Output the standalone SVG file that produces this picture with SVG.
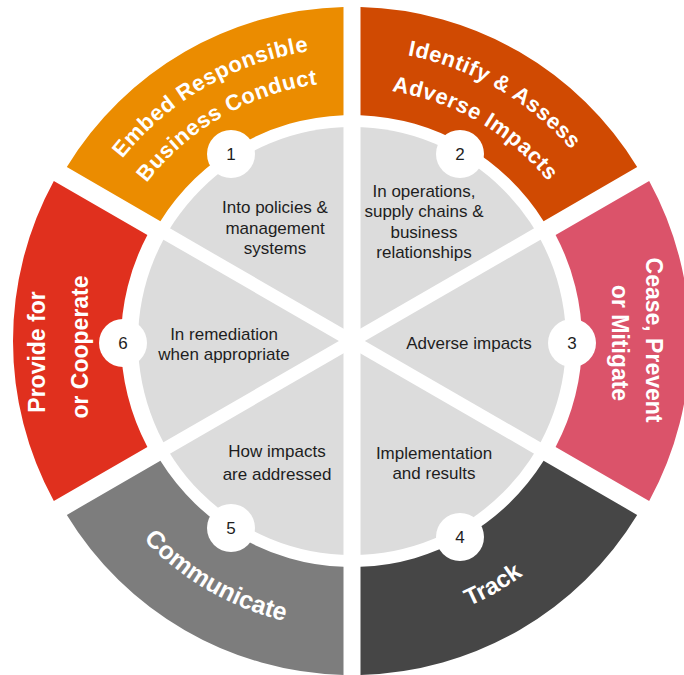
<svg xmlns="http://www.w3.org/2000/svg" xmlns:xlink="http://www.w3.org/1999/xlink" width="684" height="675" viewBox="0 0 684 675">
<style>
.lbl{font-family:"Liberation Sans",Arial,sans-serif;font-weight:bold;fill:#ffffff}
.arc{letter-spacing:0.6px}
.inner{font-family:"Liberation Sans",Arial,sans-serif;font-size:17px;fill:#1e1e1e;text-anchor:middle}
.num{font-family:"Liberation Sans",Arial,sans-serif;font-size:17px;fill:#1e1e1e;text-anchor:middle}
.badge{fill:#ffffff}
.sep{stroke:#ffffff;stroke-width:13;fill:none}
</style>
<defs>
<path id="arcEmbedO" d="M59,341 A293,293 0 0 1 498.5,87.26"/>
<path id="arcEmbedI" d="M93,341 A259,259 0 0 1 481.5,116.7"/>
<path id="arcIdO" d="M206.5,88.98 A291,291 0 0 1 643,341"/>
<path id="arcIdI" d="M225.5,121.9 A253,253 0 0 1 605,341"/>
<path id="arcComm" d="M64,341 A288,288 0 0 0 496,590.4"/>
<path id="arcTrack" d="M207,592.1 A290,290 0 0 0 642,341"/>
</defs>
<rect width="684" height="675" fill="#ffffff"/>
<g id="disc">
<circle cx="352" cy="341" r="214" fill="#dcdcdc"/>
</g>
<g id="connectors">
<rect x="343.5" y="115" width="17" height="452" fill="#ffffff"/>
<line class="sep" x1="159.74" y1="230" x2="544.26" y2="452"/>
<line class="sep" x1="159.74" y1="452" x2="544.26" y2="230"/>
</g>
<g id="step1">
<path d="M343.5,7.11 A334,334 0 0 0 66.83,167.12 L160.4,221.14 A226,226 0 0 1 343.5,115.16 Z" fill="#eb8c00"/>
<text class="lbl arc" font-size="22" text-anchor="middle"><textPath xlink:href="#arcEmbedO" href="#arcEmbedO" startOffset="50%">Embed Responsible</textPath></text>
<text class="lbl arc" font-size="22" text-anchor="middle"><textPath xlink:href="#arcEmbedI" href="#arcEmbedI" startOffset="50%">Business Conduct</textPath></text>
<circle class="badge" cx="231" cy="154" r="24"/>
<text class="num" x="231" y="160">1</text>
<text class="inner" x="275" y="213">Into policies &amp;</text>
<text class="inner" x="275" y="233.5">management</text>
<text class="inner" x="275" y="254">systems</text>
</g>
<g id="step2">
<path d="M360.5,7.11 A334,334 0 0 1 637.17,167.12 L543.6,221.14 A226,226 0 0 0 360.5,115.16 Z" fill="#d04a02"/>
<text class="lbl arc" font-size="22" text-anchor="middle"><textPath xlink:href="#arcIdO" href="#arcIdO" startOffset="50%">Identify &amp; Assess</textPath></text>
<text class="lbl arc" font-size="22" text-anchor="middle"><textPath xlink:href="#arcIdI" href="#arcIdI" startOffset="50%">Adverse Impacts</textPath></text>
<circle class="badge" cx="460" cy="154" r="24"/>
<text class="num" x="460" y="160">2</text>
<text class="inner" x="424" y="197">In operations,</text>
<text class="inner" x="424" y="217">supply chains &amp;</text>
<text class="inner" x="424" y="237.5">business</text>
<text class="inner" x="424" y="258">relationships</text>
</g>
<g id="step3">
<path transform="translate(4,0)" d="M645.17,180.97 A334,334 0 0 1 645.17,501.03 L551.6,447 A226,226 0 0 0 551.6,235 Z" fill="#db536a"/>
<text class="lbl" font-size="23" text-anchor="middle" transform="translate(645.5,340) rotate(90)">Cease, Prevent</text>
<text class="lbl" font-size="23" text-anchor="middle" transform="translate(612,343) rotate(90)">or Mitigate</text>
<circle class="badge" cx="572" cy="343" r="24"/>
<text class="num" x="572" y="349">3</text>
<text class="inner" x="469" y="349">Adverse impacts</text>
</g>
<g id="step4">
<path d="M637.17,514.88 A334,334 0 0 1 360.5,674.89 L360.5,566.84 A226,226 0 0 0 543.6,460.86 Z" fill="#464646"/>
<text class="lbl" font-size="24" text-anchor="middle"><textPath xlink:href="#arcTrack" href="#arcTrack" startOffset="50%">Track</textPath></text>
<circle class="badge" cx="460" cy="537" r="24"/>
<text class="num" x="460" y="543">4</text>
<text class="inner" x="434" y="459">Implementation</text>
<text class="inner" x="434" y="479">and results</text>
</g>
<g id="step5">
<path d="M343.5,674.89 A334,334 0 0 1 66.83,514.88 L160.4,460.86 A226,226 0 0 0 343.5,566.84 Z" fill="#7d7d7d"/>
<text class="lbl" font-size="25" text-anchor="middle"><textPath xlink:href="#arcComm" href="#arcComm" startOffset="50%">Communicate</textPath></text>
<circle class="badge" cx="231" cy="528" r="24"/>
<text class="num" x="231" y="534">5</text>
<text class="inner" x="277" y="457">How impacts</text>
<text class="inner" x="277" y="480">are addressed</text>
</g>
<g id="step6">
<path transform="translate(-5,0)" d="M58.83,180.97 A334,334 0 0 0 58.83,501.03 L152.4,447 A226,226 0 0 1 152.4,235 Z" fill="#e0301e"/>
<text class="lbl" font-size="23" text-anchor="middle" transform="translate(45,352) rotate(-90)">Provide for</text>
<text class="lbl" font-size="23" text-anchor="middle" transform="translate(88,347) rotate(-90)">or Cooperate</text>
<circle class="badge" cx="123" cy="343" r="24"/>
<text class="num" x="123" y="349">6</text>
<text class="inner" x="224" y="340">In remediation</text>
<text class="inner" x="224" y="360">when appropriate</text>
</g>
</svg>
